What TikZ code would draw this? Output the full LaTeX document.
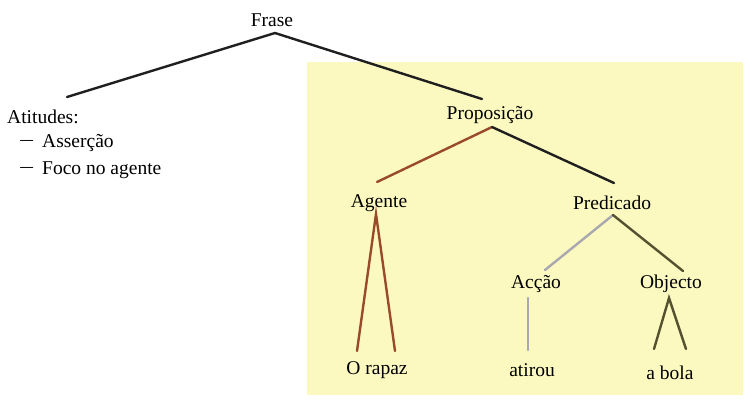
\documentclass[tikz,border=0pt]{standalone}
\usepackage{fontspec}
\setmainfont{Liberation Serif}
\begin{document}
\begin{tikzpicture}[x=1pt,y=-1pt,
  lbl/.style={font=\fontsize{19.5}{22}\selectfont, inner sep=0pt},
  branch/.style={line width=2.4pt, line cap=round},
  blackline/.style={branch, draw=black!88},
  redline/.style={branch, draw=agentred},
  grayline/.style={branch, draw=actgray},
  oliveline/.style={branch, draw=objolive}]
\definecolor{paper}{HTML}{FBF9C0}
\definecolor{agentred}{HTML}{9A4A2C}
\definecolor{actgray}{HTML}{A9A8B0}
\definecolor{objolive}{HTML}{55502F}
\useasboundingbox (0,0) rectangle (747,405);
\fill[white] (0,0) rectangle (747,405);
% shaded panel behind the proposition
\fill[paper] (307,62) rectangle (743,395);

% labels
\node[lbl] (frase) at (272,20) {Frase};
\node[lbl] (prop) at (490,115) {Proposição};
\node[lbl] (agente) at (379,203) {Agente};
\node[lbl] (pred) at (612,203) {Predicado};
\node[lbl] (accao) at (536,284) {Acção};
\node[lbl] (objecto) at (671,284) {Objecto};
\node[lbl] (rapaz) at (377,370) {O rapaz};
\node[lbl] (atirou) at (532,370) {atirou};
\node[lbl] (bola) at (670,373) {a bola};
\node[lbl, anchor=west] (atit) at (7,117) {Atitudes:};
\node[lbl, anchor=west, xscale=1.3] (d1) at (20,143) {–};
\node[lbl, anchor=west] (ass) at (42,143) {Asserção};
\node[lbl, anchor=west, xscale=1.3] (d2) at (20,170) {–};
\node[lbl, anchor=west] (foco) at (42,170) {Foco no agente};

% branch end points
\coordinate (frase-b) at (275,33);
\coordinate (atit-t) at (67,97);
\coordinate (prop-t) at (482,99);
\coordinate (prop-b) at (492,127);
\coordinate (agente-t) at (377,182);
\coordinate (pred-t) at (614,183);
\coordinate (agente-b) at (376,214);
\coordinate (rapaz-l) at (357,351);
\coordinate (rapaz-r) at (395,351);
\coordinate (pred-b) at (613,215);
\coordinate (accao-t) at (545,270);
\coordinate (objecto-t) at (683,271);
\coordinate (accao-b) at (528,298);
\coordinate (atirou-t) at (528,350);
\coordinate (objecto-b) at (669,298);
\coordinate (bola-l) at (654,349);
\coordinate (bola-r) at (686,349);

% tree branches
\draw[blackline] (frase-b) -- (atit-t);
\draw[blackline] (frase-b) -- (prop-t);
\draw[redline] (prop-b) -- (agente-t);
\draw[blackline] (prop-b) -- (pred-t);
\draw[redline] (rapaz-l) -- (agente-b) -- (rapaz-r);
\draw[grayline] (pred-b) -- (accao-t);
\draw[oliveline] (pred-b) -- (objecto-t);
\draw[grayline] (accao-b) -- (atirou-t);
\draw[oliveline] (bola-l) -- (objecto-b) -- (bola-r);
\end{tikzpicture}
\end{document}
